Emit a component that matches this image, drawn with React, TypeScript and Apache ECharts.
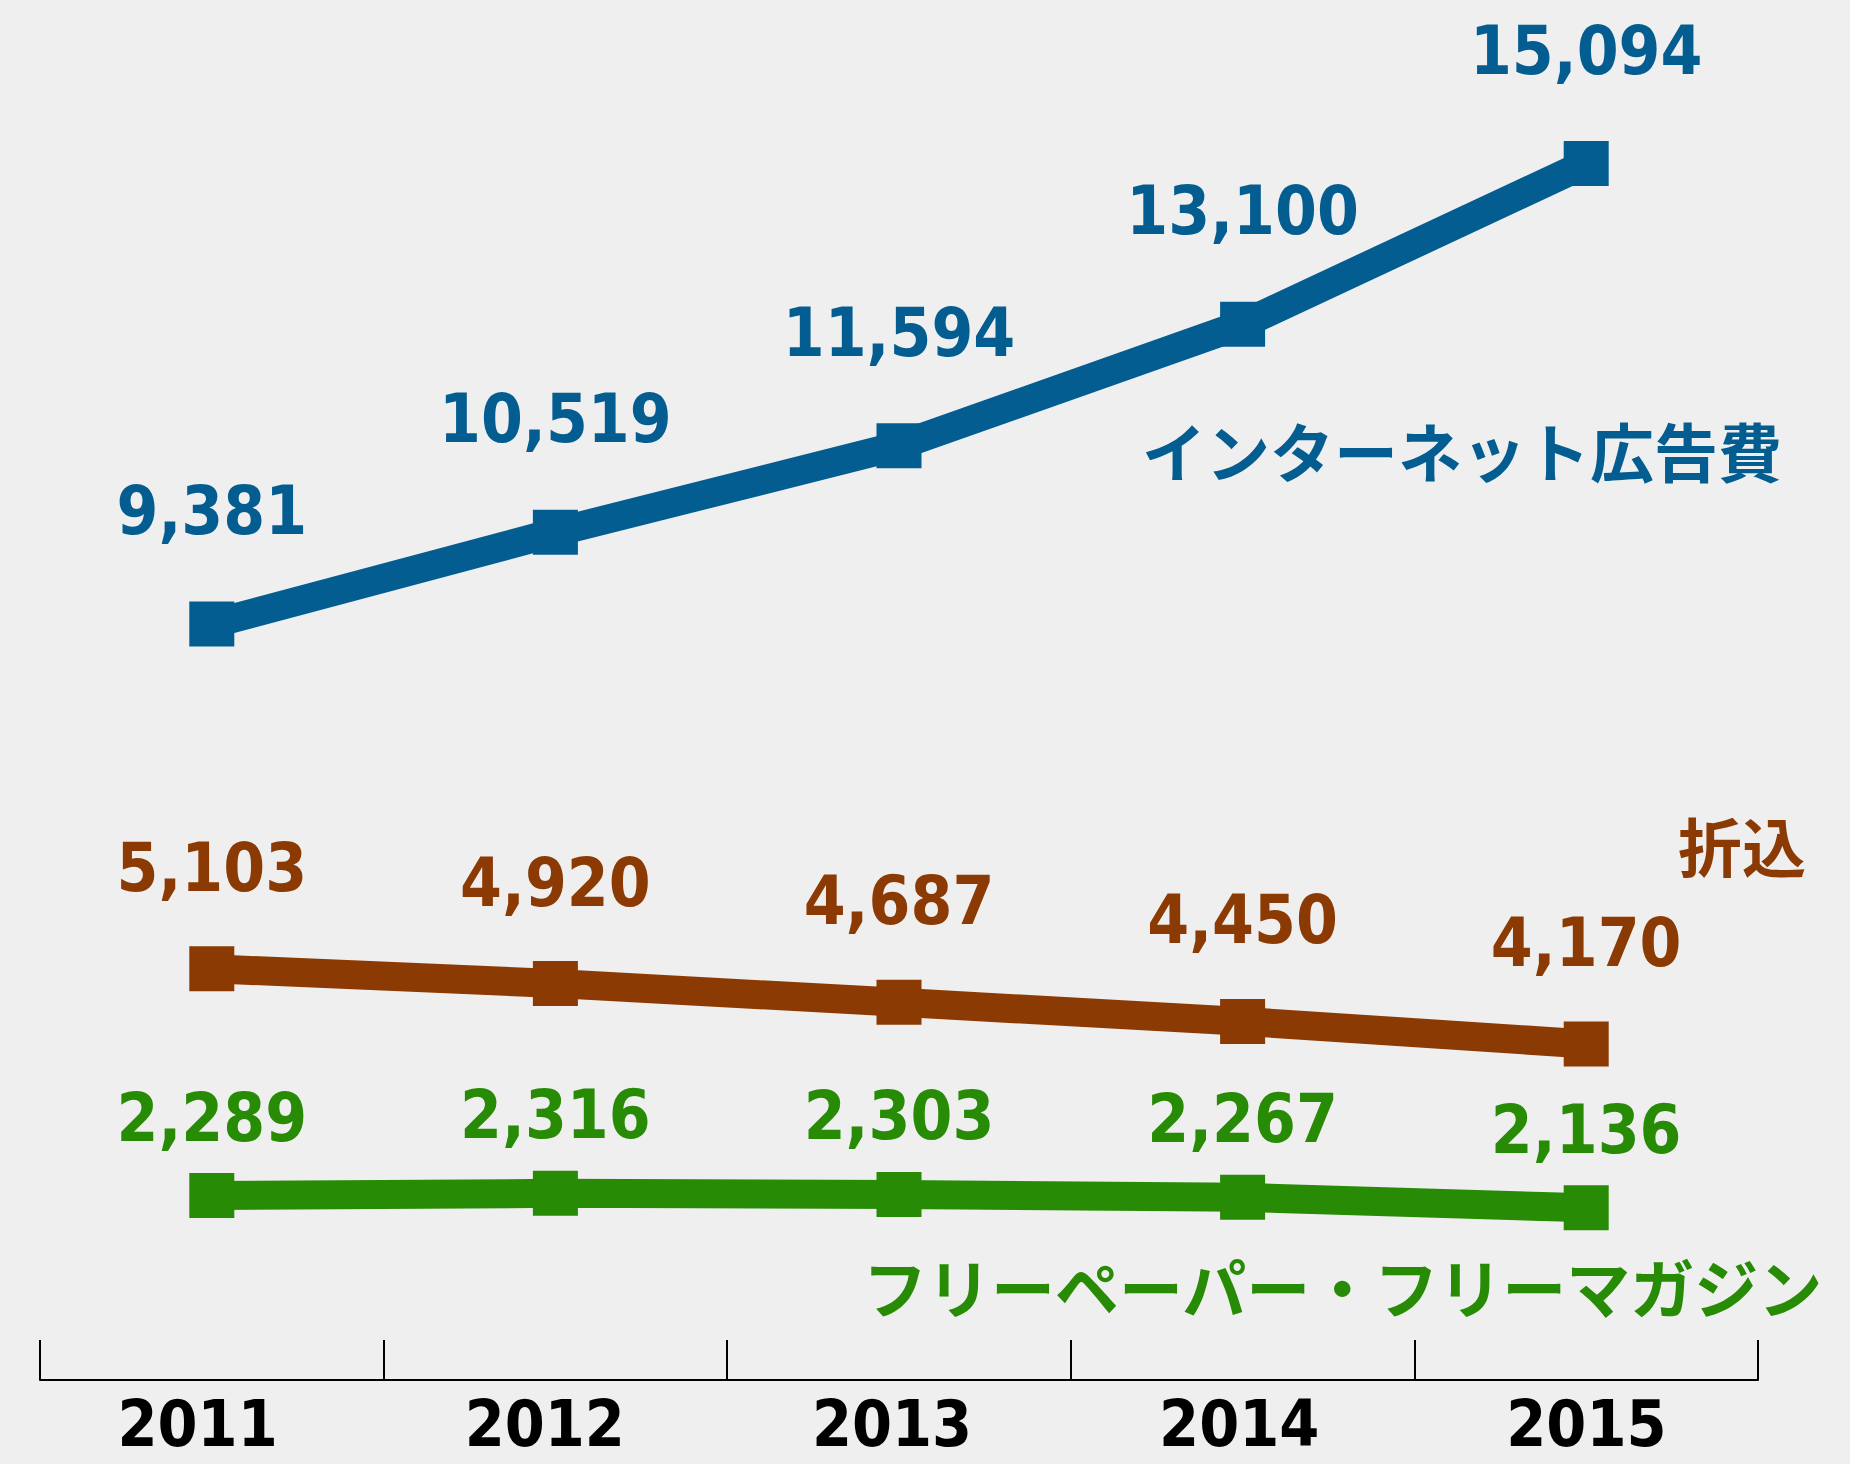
import React, { useEffect, useRef } from "react";
import * as echarts from "echarts";

const years = ["2011", "2012", "2013", "2014", "2015"];
const internet = [9381, 10519, 11594, 13100, 15094];
const orikomi = [5103, 4920, 4687, 4450, 4170];
const freePaper = [2289, 2316, 2303, 2267, 2136];

const seriesNames = ["インターネット広告費", "折込", "フリーペーパー・フリーマガジン"];
const colors = ["#045d90", "#8c3a03", "#278b05"];

const numFont = "'DejaVu Sans Condensed', 'DejaVu Sans', sans-serif";
const jpFont = "'Noto Sans CJK JP', sans-serif";

export default function App() {
  const ref = useRef<HTMLDivElement>(null);
  useEffect(() => {
    if (!ref.current) return;
    const chart = echarts.init(ref.current, null, { renderer: "svg" });
    const fmt = (p: any) => Number(p.value).toLocaleString("en-US");
    const mk = (name: string, data: number[], color: string, dist: number) => ({
      name,
      type: "line",
      data,
      symbol: "rect",
      symbolSize: 45,
      lineStyle: { color, width: 29 },
      itemStyle: { color },
      label: {
        show: true,
        position: "top",
        distance: dist,
        formatter: fmt,
        color,
        fontFamily: numFont,
        fontWeight: "bold",
        fontSize: 67,
      },
    });
    chart.setOption({
      animation: false,
      backgroundColor: "#efefef",
      grid: [
        { left: 40, right: 92, top: 10, bottom: 84 },
        { left: 24, right: 90, top: 10, bottom: 84 },
      ],
      xAxis: [
        {
          type: "category",
          data: years,
          gridIndex: 0,
          boundaryGap: true,
          axisLine: { show: true, lineStyle: { color: "#000", width: 2 } },
          axisTick: { show: true, inside: true, length: 40, lineStyle: { color: "#000", width: 2 } },
          axisLabel: { show: false },
        },
        {
          type: "category",
          data: years,
          gridIndex: 1,
          boundaryGap: true,
          axisLine: { show: false },
          axisTick: { show: false },
          axisLabel: {
            color: "#000",
            fontFamily: numFont,
            fontWeight: "bold",
            fontSize: 64,
            lineHeight: 64,
            margin: 12,
          },
        },
      ],
      yAxis: [
        { type: "value", min: 0, max: 17000, show: false, gridIndex: 0 },
        { type: "value", min: 0, max: 17000, show: false, gridIndex: 1 },
      ],
      series: [
        mk(seriesNames[0], internet, colors[0], 57),
        mk(seriesNames[1], orikomi, colors[1], 45),
        mk(seriesNames[2], freePaper, colors[2], 22),
      ],
      graphic: [
        {
          type: "text",
          right: 1850 - 1782,
          top: 454 - 37,
          style: { text: seriesNames[0], fill: colors[0], font: `bold 64px ${jpFont}` },
        },
        {
          type: "text",
          right: 1850 - 1806,
          top: 849 - 37,
          style: { text: seriesNames[1], fill: colors[1], font: `bold 64px ${jpFont}` },
        },
        {
          type: "text",
          right: 1850 - 1823,
          top: 1290 - 37,
          style: { text: seriesNames[2], fill: colors[2], font: `bold 64px ${jpFont}` },
        },
      ],
    });
    return () => chart.dispose();
  }, []);
  return (
    <div
      ref={ref}
      style={{ position: "absolute", left: 0, top: 0, width: 1850, height: 1464 }}
    />
  );
}
